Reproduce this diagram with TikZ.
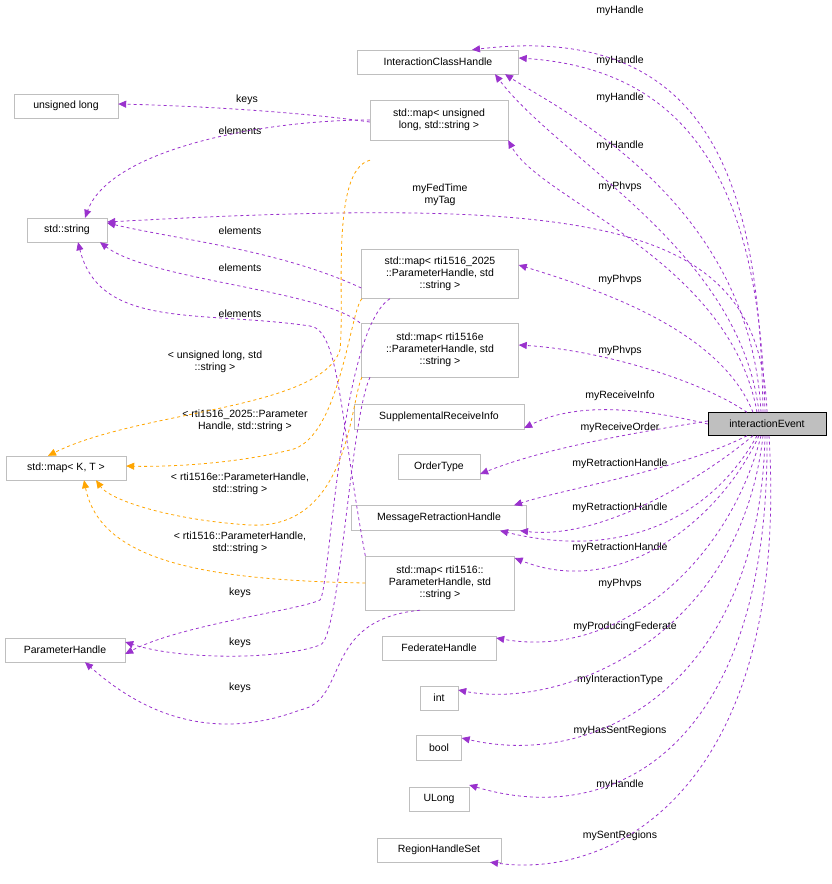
\documentclass[tikz,border=0pt]{standalone}
\usepackage{fontspec}
\setmainfont{Liberation Sans}
\usetikzlibrary{arrows.meta}
\definecolor{pur}{HTML}{9A32CD}
\definecolor{org}{HTML}{FFA500}
\definecolor{bord}{HTML}{BFBFBF}
\begin{document}
\begin{tikzpicture}[x=1pt,y=-1pt,
 box/.style={draw=bord,fill=white,inner sep=2pt,align=center,font=\fontsize{10.5}{12}\selectfont},
 lab/.style={align=center,font=\fontsize{10.5}{12}\selectfont,inner sep=0pt},
 use/.style={pur,dashed,line width=0.8pt,-{Triangle[length=8pt,width=7pt]}},
 tmpl/.style={org,dashed,line width=0.8pt,-{Triangle[length=8pt,width=7pt]}}]
\useasboundingbox (0,0) rectangle (832,884);
\node[box,minimum width=161,minimum height=24] (ich) at (438,62) {InteractionClassHandle};
\node[box,minimum width=104,minimum height=24] (ul) at (66,106) {unsigned long};
\node[box,minimum width=138,minimum height=40] (mul) at (439,120) {std::map< unsigned\\long, std::string >};
\node[box,minimum width=80,minimum height=24] (str) at (67,230) {std::string};
\node[box,minimum width=157,minimum height=49] (m25) at (440,274) {std::map< rti1516\_2025\\::ParameterHandle, std\\::string >};
\node[box,minimum width=157,minimum height=54] (m1e) at (440,350) {std::map< rti1516e\\::ParameterHandle, std\\::string >};
\node[box,minimum width=170,minimum height=25] (sri) at (439,417) {SupplementalReceiveInfo};
\node[box,draw=black,fill=bord,minimum width=118,minimum height=23] (ie) at (767,424) {interactionEvent};
\node[box,minimum width=120,minimum height=24] (kt) at (66,468) {std::map< K, T >};
\node[box,minimum width=82,minimum height=25] (ot) at (439,467) {OrderType};
\node[box,minimum width=175,minimum height=25] (mrh) at (439,518) {MessageRetractionHandle};
\node[box,minimum width=149,minimum height=54] (m16) at (440,583) {std::map< rti1516::\\ParameterHandle, std\\::string >};
\node[box,minimum width=120,minimum height=24] (ph) at (65,650) {ParameterHandle};
\node[box,minimum width=114,minimum height=24] (fh) at (439,648) {FederateHandle};
\node[box,minimum width=38,minimum height=24] (int) at (439,698) {int};
\node[box,minimum width=45,minimum height=25] (bool) at (439,748) {bool};
\node[box,minimum width=60,minimum height=24] (ulong) at (439,799) {ULong};
\node[box,minimum width=124,minimum height=24] (rhs) at (439,850) {RegionHandleSet};

% labels
\node[lab] (l1) at (620,11) {myHandle};
\node[lab] (l2) at (620,61) {myHandle};
\node[lab] (l3) at (620,98) {myHandle};
\node[lab] (l4) at (620,146) {myHandle};
\node[lab] (l5) at (620,187) {myPhvps};
\node[lab] (l6) at (440,195) {myFedTime\\myTag};
\node[lab] (l7) at (620,280) {myPhvps};
\node[lab] (l8) at (620,351) {myPhvps};
\node[lab] (l9) at (620,396) {myReceiveInfo};
\node[lab] (l10) at (620,428) {myReceiveOrder};
\node[lab] (l11) at (620,464) {myRetractionHandle};
\node[lab] (l12) at (620,508) {myRetractionHandle};
\node[lab] (l13) at (620,548) {myRetractionHandle};
\node[lab] (l14) at (620,584) {myPhvps};
\node[lab] (l15) at (625,627) {myProducingFederate};
\node[lab] (l16) at (620,680) {myInteractionType};
\node[lab] (l17) at (620,731) {myHasSentRegions};
\node[lab] (l18) at (620,785) {myHandle};
\node[lab] (l19) at (620,836) {mySentRegions};
\node[lab] (k1) at (247,100) {keys};
\node[lab] (e1) at (240,131) {elements};
\node[lab] (e2) at (240,231) {elements};
\node[lab] (e3) at (240,268) {elements};
\node[lab] (e4) at (240,314) {elements};
\node[lab] (t1) at (215,362) {< unsigned long, std\\::string >};
\node[lab] (t2) at (245,421) {< rti1516\_2025::Parameter\\Handle, std::string >};
\node[lab] (t3) at (240,484) {< rti1516e::ParameterHandle,\\std::string >};
\node[lab] (t4) at (240,543) {< rti1516::ParameterHandle,\\std::string >};
\node[lab] (k2) at (240,593) {keys};
\node[lab] (k3) at (240,643) {keys};
\node[lab] (k4) at (240,688) {keys};

% uses from interactionEvent
\draw[use] ([xshift=-4]ie.north) .. controls (760,200) and (720,20) .. ([xshift=34]ich.north);
\draw[use] ([xshift=-2]ie.north) .. controls (760,200) and (700,70) .. ([yshift=4]ich.east);
\draw[use] ([xshift=-6]ie.north) .. controls (750,200) and (560,110) .. ([xshift=67]ich.south);
\draw[use] ([xshift=-8]ie.north) .. controls (740,250) and (560,160) .. ([xshift=57]ich.south);
\draw[use] ([xshift=-10]ie.north) .. controls (730,260) and (540,200) .. ([xshift=0]mul.south east);
\draw[use] ([xshift=0]ie.north) .. controls (760,220) and (600,195) .. ([yshift=8]str.east);
\draw[use] ([xshift=-14]ie.north) .. controls (720,330) and (600,290) .. ([yshift=9]m25.east);
\draw[use] ([xshift=-20]ie.north) .. controls (700,380) and (600,350) .. ([yshift=5]m1e.east);
\draw[use] (ie.west) .. controls (650,410) and (580,400) .. ([yshift=-11]sri.east);
\draw[use] ([yshift=3]ie.west) .. controls (620,435) and (540,450) .. ([yshift=-7]ot.east);
\draw[use] ([xshift=-20]ie.south) .. controls (680,470) and (560,490) .. ([xshift=75]mrh.north);
\draw[use] ([xshift=-14]ie.south) .. controls (700,480) and (600,540) .. ([xshift=81]mrh.south);
\draw[use] ([xshift=-10]ie.south) .. controls (710,520) and (620,560) .. ([xshift=61]mrh.south);
\draw[use] ([xshift=-8]ie.south) .. controls (720,520) and (620,600) .. ([yshift=25]m16.east);
\draw[use] ([xshift=-6]ie.south) .. controls (730,560) and (620,660) .. ([yshift=10]fh.east);
\draw[use] ([xshift=-4]ie.south) .. controls (740,640) and (560,710) .. ([yshift=8]int.east);
\draw[use] ([xshift=-2]ie.south) .. controls (760,680) and (600,770) .. ([yshift=10]bool.east);
\draw[use] ([xshift=0]ie.south) .. controls (770,740) and (620,830) .. ([yshift=14]ulong.east);
\draw[use] ([xshift=2]ie.south) .. controls (790,780) and (620,880) .. ([xshift=51]rhs.south);

% left side
\draw[use] ([yshift=-2]mul.west) .. controls (300,112) and (200,106) .. ([yshift=2]ul.east);
\draw[use] ([yshift=0]mul.west) .. controls (260,120) and (110,150) .. ([xshift=18]str.north);
\draw[use] ([yshift=-14]m25.west) .. controls (280,250) and (180,240) .. ([yshift=7]str.east);
\draw[use] ([xshift=-80]m1e.north) .. controls (320,290) and (150,280) .. ([xshift=33,yshift=0]str.south);
\draw[use] (m16.north west) .. controls (340,420) and (340,330) .. (310,326) .. controls (200,310) and (100,330) .. ([xshift=11]str.south);

\draw[tmpl] ([xshift=-69,yshift=-20]mul.south) .. controls (330,170) and (345,300) .. (340,350) .. controls (320,410) and (140,410) .. ([xshift=-18]kt.north);
\draw[tmpl] ([xshift=-78,yshift=0]m25.south) .. controls (350,310) and (340,440) .. (290,450) .. controls (230,465) and (160,467) .. ([yshift=2]kt.east);
\draw[tmpl] ([xshift=-78,yshift=0]m1e.south) .. controls (350,400) and (350,530) .. (250,525) .. controls (170,520) and (110,500) .. ([xshift=30]kt.south);
\draw[tmpl] (m16.west) .. controls (200,580) and (100,560) .. ([xshift=18]kt.south);

\draw[use] ([xshift=-50]m25.south) .. controls (340,330) and (330,590) .. (320,600) .. controls (300,610) and (180,625) .. ([yshift=-4]ph.east);
\draw[use] ([xshift=-70]m1e.south) .. controls (350,420) and (340,640) .. (320,645) .. controls (280,660) and (180,660) .. ([yshift=8]ph.east);
\draw[use] ([xshift=-20]m16.south) .. controls (320,620) and (350,700) .. (300,710) .. controls (220,740) and (150,720) .. ([xshift=20]ph.south);
\end{tikzpicture}
\end{document}
